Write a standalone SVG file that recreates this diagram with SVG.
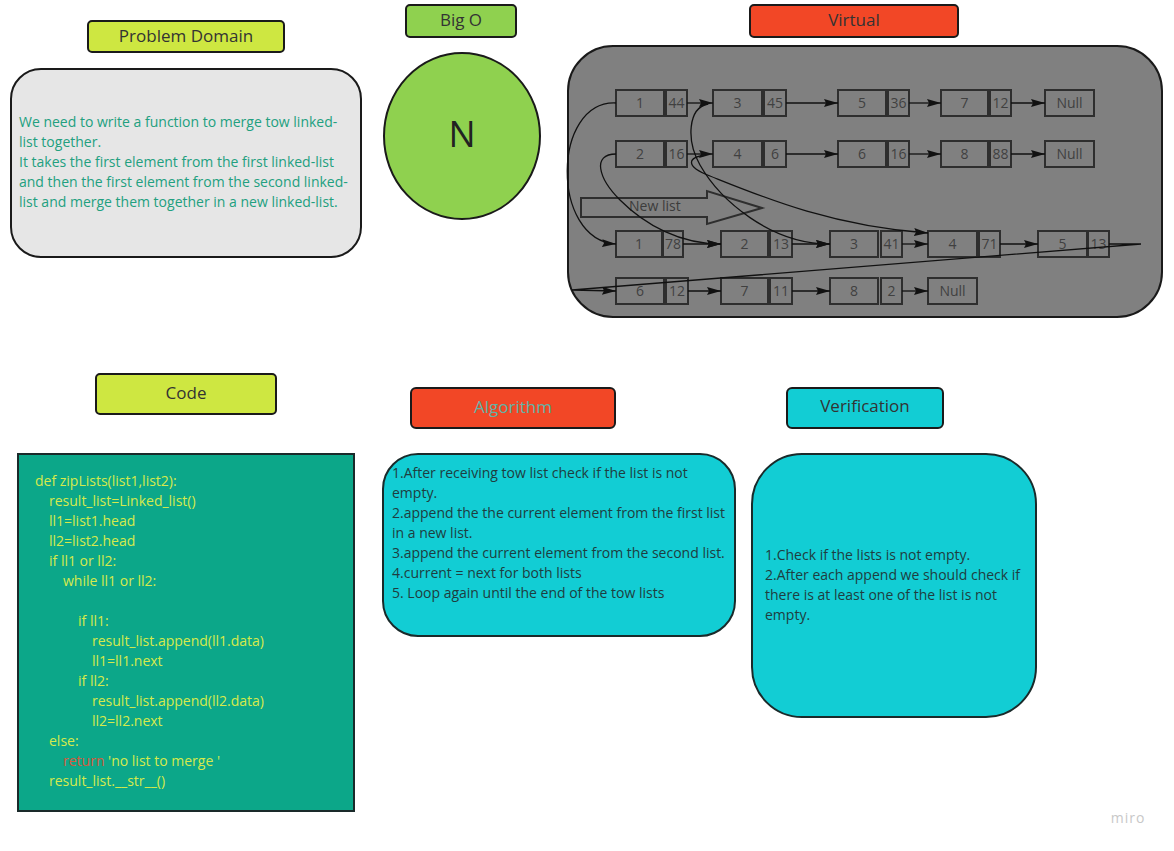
<svg xmlns="http://www.w3.org/2000/svg" width="1174" height="851" viewBox="0 0 1174 851">
<style>
text{font-family:"Open Sans","Liberation Sans",sans-serif}
.lbl{stroke:#1a1a1a;stroke-width:2}
.lt{font-size:17px;fill:#333;text-anchor:middle}
.nb{fill:#808080;stroke:#2e2e2e;stroke-width:2}
.nt{font-size:14px;fill:#404040;text-anchor:middle}
.con{fill:none;stroke:#111;stroke-width:1.3}
.code{font-size:14px;fill:#d6ea4c}
.pd{font-size:14px;fill:#22a07f}
.bt{font-size:14px;fill:#1f3d40}
</style>
<defs>
<marker id="ah" markerWidth="14" markerHeight="8" refX="14" refY="4" orient="auto" markerUnits="userSpaceOnUse">
<path d="M0,0 L14,4 L0,8 L2,4 z" fill="#111"/>
</marker>
</defs>
<rect width="1174" height="851" fill="#ffffff"/>

<g id="problem-domain-label">
<rect class="lbl" x="88" y="21" width="196" height="31" rx="4" fill="#cee741"/>
<text class="lt" x="186" y="42">Problem Domain</text>
</g>
<g id="problem-domain">
<rect x="11" y="69" width="350" height="188" rx="30" fill="#e6e6e6" stroke="#1a1a1a" stroke-width="2"/>
<text class="pd" x="19" y="127">We need to write a function to merge tow linked-</text>
<text class="pd" x="19" y="147">list together.</text>
<text class="pd" x="19" y="167">It takes the first element from the first linked-list</text>
<text class="pd" x="19" y="187">and then the first element from the second linked-</text>
<text class="pd" x="19" y="207">list and merge them together in a new linked-list.</text>
</g>

<g id="bigo-label">
<rect class="lbl" x="406" y="5" width="110" height="32" rx="4" fill="#8fd14f"/>
<text class="lt" x="461" y="26">Big O</text>
</g>
<g id="bigo">
<ellipse cx="462" cy="136" rx="78" ry="83" fill="#8fd14f" stroke="#1a1a1a" stroke-width="2"/>
<text x="462" y="147" font-size="36" fill="#222" text-anchor="middle">N</text>
</g>

<g id="virtual-label">
<rect class="lbl" x="750" y="5" width="208" height="32" rx="4" fill="#f24726"/>
<text class="lt" x="854" y="26">Virtual</text>
</g>
<g id="virtual">
<rect x="568" y="46" width="594" height="271" rx="45" fill="#808080" stroke="#1a1a1a" stroke-width="2"/>
</g>

<g id="new-list">
<polygon class="nb" points="581,198 707,198 707,191 762,208 707,224 707,217 581,217"/>
<text x="629" y="211" font-size="14" fill="#3c3c3c">New list</text>
</g>

<!-- row 1 -->
<g id="r1n1"><rect class="nb" x="616" y="90" width="48" height="26"/><rect class="nb" x="666" y="90" width="21" height="26"/><text class="nt" x="640" y="108">1</text><text class="nt" x="676.5" y="108">44</text></g>
<g id="r1n3"><rect class="nb" x="713" y="90" width="49" height="26"/><rect class="nb" x="764" y="90" width="22" height="26"/><text class="nt" x="737.5" y="108">3</text><text class="nt" x="775" y="108">45</text></g>
<g id="r1n5"><rect class="nb" x="838" y="90" width="48" height="26"/><rect class="nb" x="888" y="90" width="21" height="26"/><text class="nt" x="862" y="108">5</text><text class="nt" x="898.5" y="108">36</text></g>
<g id="r1n7"><rect class="nb" x="941" y="90" width="47" height="26"/><rect class="nb" x="990" y="90" width="21" height="26"/><text class="nt" x="964.5" y="108">7</text><text class="nt" x="1000.5" y="108">12</text></g>
<g id="r1null"><rect class="nb" x="1045" y="90" width="49" height="26"/><text class="nt" x="1069.5" y="108">Null</text></g>
<!-- row 2 -->
<g id="r2n2"><rect class="nb" x="616" y="141" width="48" height="26"/><rect class="nb" x="666" y="141" width="21" height="26"/><text class="nt" x="640" y="159">2</text><text class="nt" x="676.5" y="159">16</text></g>
<g id="r2n4"><rect class="nb" x="713" y="141" width="49" height="26"/><rect class="nb" x="764" y="141" width="22" height="26"/><text class="nt" x="737.5" y="159">4</text><text class="nt" x="775" y="159">6</text></g>
<g id="r2n6"><rect class="nb" x="838" y="141" width="48" height="26"/><rect class="nb" x="888" y="141" width="21" height="26"/><text class="nt" x="862" y="159">6</text><text class="nt" x="898.5" y="159">16</text></g>
<g id="r2n8"><rect class="nb" x="941" y="141" width="47" height="26"/><rect class="nb" x="990" y="141" width="21" height="26"/><text class="nt" x="964.5" y="159">8</text><text class="nt" x="1000.5" y="159">88</text></g>
<g id="r2null"><rect class="nb" x="1045" y="141" width="49" height="26"/><text class="nt" x="1069.5" y="159">Null</text></g>
<!-- row 3 -->
<g id="r3n1"><rect class="nb" x="616" y="231" width="46" height="26"/><rect class="nb" x="663" y="231" width="20" height="26"/><text class="nt" x="639" y="249">1</text><text class="nt" x="673" y="249">78</text></g>
<g id="r3n2"><rect class="nb" x="721" y="231" width="47" height="26"/><rect class="nb" x="770" y="231" width="22" height="26"/><text class="nt" x="744.5" y="249">2</text><text class="nt" x="781" y="249">13</text></g>
<g id="r3n3"><rect class="nb" x="830" y="231" width="48" height="26"/><rect class="nb" x="881" y="231" width="21" height="26"/><text class="nt" x="854" y="249">3</text><text class="nt" x="891.5" y="249">41</text></g>
<g id="r3n4"><rect class="nb" x="928" y="231" width="49" height="26"/><rect class="nb" x="979" y="231" width="21" height="26"/><text class="nt" x="952.5" y="249">4</text><text class="nt" x="989.5" y="249">71</text></g>
<g id="r3n5"><rect class="nb" x="1038" y="231" width="49" height="26"/><rect class="nb" x="1088" y="231" width="21" height="26"/><text class="nt" x="1062.5" y="249">5</text><text class="nt" x="1098.5" y="249">13</text></g>
<!-- row 4 -->
<g id="r4n6"><rect class="nb" x="616" y="278" width="48" height="26"/><rect class="nb" x="666" y="278" width="22" height="26"/><text class="nt" x="640" y="296">6</text><text class="nt" x="677" y="296">12</text></g>
<g id="r4n7"><rect class="nb" x="721" y="278" width="47" height="26"/><rect class="nb" x="770" y="278" width="22" height="26"/><text class="nt" x="744.5" y="296">7</text><text class="nt" x="781" y="296">11</text></g>
<g id="r4n8"><rect class="nb" x="830" y="278" width="48" height="26"/><rect class="nb" x="881" y="278" width="21" height="26"/><text class="nt" x="854" y="296">8</text><text class="nt" x="891.5" y="296">2</text></g>
<g id="r4null"><rect class="nb" x="928" y="278" width="49" height="26"/><text class="nt" x="952.5" y="296">Null</text></g>

<g id="connectors">
<path class="con" marker-end="url(#ah)" d="M687,103 L713,103"/>
<path class="con" marker-end="url(#ah)" d="M786,103 L838,103"/>
<path class="con" marker-end="url(#ah)" d="M909,103 L941,103"/>
<path class="con" marker-end="url(#ah)" d="M1011,103 L1045,103"/>
<path class="con" marker-end="url(#ah)" d="M687,154 L713,154"/>
<path class="con" marker-end="url(#ah)" d="M786,154 L838,154"/>
<path class="con" marker-end="url(#ah)" d="M909,154 L941,154"/>
<path class="con" marker-end="url(#ah)" d="M1011,154 L1045,154"/>
<path class="con" marker-end="url(#ah)" d="M683,244 L721,244"/>
<path class="con" marker-end="url(#ah)" d="M792,244 L830,244"/>
<path class="con" marker-end="url(#ah)" d="M902,244 L928,244"/>
<path class="con" marker-end="url(#ah)" d="M1000,244 L1038,244"/>
<path class="con" marker-end="url(#ah)" d="M688,291 L721,291"/>
<path class="con" marker-end="url(#ah)" d="M792,291 L830,291"/>
<path class="con" marker-end="url(#ah)" d="M902,291 L928,291"/>
<path class="con" marker-end="url(#ah)" d="M616,103 C552,100 550,240 616,244"/>
<path class="con" marker-end="url(#ah)" d="M616,154 C592,154 598,178 620,200 C645,225 680,244 721,244"/>
<path class="con" marker-end="url(#ah)" d="M708,104 C688,108 686,140 700,165 C720,200 770,244 830,244"/>
<path class="con" marker-end="url(#ah)" d="M706,155 C688,157 684,166 710,176 C760,196 830,226 928,233"/>
<path class="con" marker-end="url(#ah)" d="M1109,244 L1141,244 L572,290 L616,291"/>
</g>

<g id="code-label">
<rect class="lbl" x="96" y="374" width="180" height="40" rx="4" fill="#cee741"/>
<text class="lt" x="186" y="399">Code</text>
</g>
<g id="code">
<rect x="18" y="454" width="336" height="357" fill="#0ca789" stroke="#1a2a2a" stroke-width="2"/>
<text class="code" x="35" y="486">def zipLists(list1,list2):</text>
<text class="code" x="49" y="506">result_list=Linked_list()</text>
<text class="code" x="49" y="526">ll1=list1.head</text>
<text class="code" x="49" y="546">ll2=list2.head</text>
<text class="code" x="49" y="566">if ll1 or ll2:</text>
<text class="code" x="63" y="586">while ll1 or ll2:</text>
<text class="code" x="78" y="626">if ll1:</text>
<text class="code" x="92" y="646">result_list.append(ll1.data)</text>
<text class="code" x="92" y="666">ll1=ll1.next</text>
<text class="code" x="78" y="686">if ll2:</text>
<text class="code" x="92" y="706">result_list.append(ll2.data)</text>
<text class="code" x="92" y="726">ll2=ll2.next</text>
<text class="code" x="49" y="746">else:</text>
<text class="code" x="63" y="766"><tspan fill="#d75a3c">return</tspan> 'no list to merge '</text>
<text class="code" x="49" y="786">result_list.__str__()</text>
</g>

<g id="algorithm-label">
<rect class="lbl" x="411" y="388" width="204" height="40" rx="5" fill="#f24726"/>
<text class="lt" x="513" y="413" style="fill:#62b3a6">Algorithm</text>
</g>
<g id="algorithm">
<rect x="383" y="454" width="352" height="182" rx="35" fill="#12cdd4" stroke="#1a2a2a" stroke-width="2"/>
<text class="bt" x="392" y="478">1.After receiving tow list check if the list is not</text>
<text class="bt" x="392" y="498">empty.</text>
<text class="bt" x="392" y="518">2.append the the current element from the first list</text>
<text class="bt" x="392" y="538">in a new list.</text>
<text class="bt" x="392" y="558">3.append the current element from the second list.</text>
<text class="bt" x="392" y="578">4.current = next for both lists</text>
<text class="bt" x="392" y="598">5. Loop again until the end of the tow lists</text>
</g>

<g id="verification-label">
<rect class="lbl" x="787" y="388" width="156" height="40" rx="5" fill="#12cdd4"/>
<text class="lt" x="865" y="412">Verification</text>
</g>
<g id="verification">
<rect x="752" y="454" width="284" height="263" rx="50" fill="#12cdd4" stroke="#1a2a2a" stroke-width="2"/>
<text class="bt" x="765" y="560">1.Check if the lists is not empty.</text>
<text class="bt" x="765" y="580">2.After each append we should check if</text>
<text class="bt" x="765" y="600">there is at least one of the list is not</text>
<text class="bt" x="765" y="620">empty.</text>
</g>

<text x="1128" y="823" font-size="14" fill="#c8c8c8" text-anchor="middle" letter-spacing="1">miro</text>
</svg>
